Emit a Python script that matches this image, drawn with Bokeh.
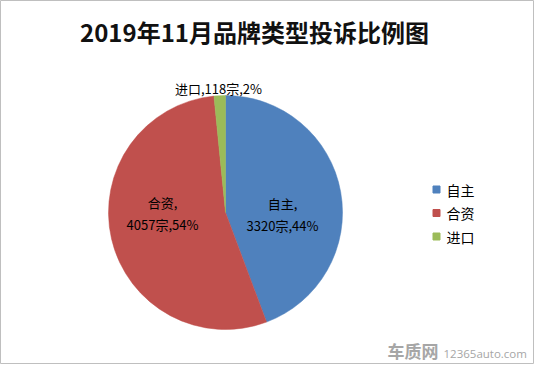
import math
from bokeh.plotting import figure
from bokeh.models import ColumnDataSource, Range1d
from bokeh.core.properties import value
from bokeh.embed import file_html
from bokeh.resources import INLINE

# ---- data ----
title_text = "2019年11月品牌类型投诉比例图"
categories = ["自主", "合资", "进口"]
counts = [3320, 4057, 118]
percents = [44, 54, 2]
unit = "宗"

# ---- style / layout ----
colors = ["#4F81BD", "#C0504D", "#9BBB59"]
W, H = 534, 364
CX, CY, R = 225, 152, 117
label_offsets = [(57, -2), (-63, -1), (-7, 124)]
label_breaks = ["\n", "\n", ""]
FONT = "Noto Sans CJK SC"

p = figure(width=W, height=H, output_backend="svg", toolbar_location=None,
           x_range=Range1d(0, W), y_range=Range1d(0, H), min_border=0)
p.axis.visible = False
p.grid.visible = False
p.outline_line_color = "#BFBFBF"
p.outline_line_width = 1
p.background_fill_color = "white"
p.border_fill_color = "white"

total = float(sum(counts))
cum = [0.0]
for c in counts:
    cum.append(cum[-1] + c / total)
starts = [math.pi / 2 - 2 * math.pi * cum[i] for i in range(len(counts))]
ends = [math.pi / 2 - 2 * math.pi * cum[i + 1] for i in range(len(counts))]

src = ColumnDataSource(dict(start=starts, end=ends, color=colors))
p.wedge(x=CX, y=CY, radius=R, start_angle="start", end_angle="end",
        direction="clock", fill_color="color", line_color="color",
        line_width=0.5, source=src)

# data labels
lab_x = [CX + dx for dx, dy in label_offsets]
lab_y = [CY + dy for dx, dy in label_offsets]
lab_t = [f"{c},{b}{n}{unit},{pc}%" for c, b, n, pc in zip(categories, label_breaks, counts, percents)]
p.text(x=lab_x, y=lab_y, text=lab_t, text_font=value(FONT), text_font_size="13px",
       text_color="#000000", text_align="center", text_baseline="middle",
       text_line_height=1.2)

# title
p.text(x=[254], y=[333], text=[title_text], text_font=value(FONT),
       text_font_size="24px", text_font_style="bold", text_color="#111111",
       text_align="center", text_baseline="middle")

# legend
leg_x = 436
leg_y = [175 - 23.5 * i for i in range(len(categories))]
p.scatter(x=[leg_x] * len(categories), y=leg_y, marker="square", size=7,
          fill_color=colors, line_color=colors)
p.text(x=[leg_x + 10] * len(categories), y=leg_y, text=categories,
       text_font=value(FONT), text_font_size="14px", text_color="#000000",
       text_align="left", text_baseline="middle")

# watermark
p.text(x=[387], y=[14], text=["车质网"], text_font=value(FONT), text_font_size="17px",
       text_font_style="bold", text_color="#A6A6A6", text_align="left",
       text_baseline="middle")
p.text(x=[443], y=[11], text=["12365auto.com"], text_font=value("Open Sans"),
       text_font_size="11.5px", text_color="#A6A6A6", text_align="left",
       text_baseline="middle")

open("out.html", "w").write(file_html(p, INLINE))
